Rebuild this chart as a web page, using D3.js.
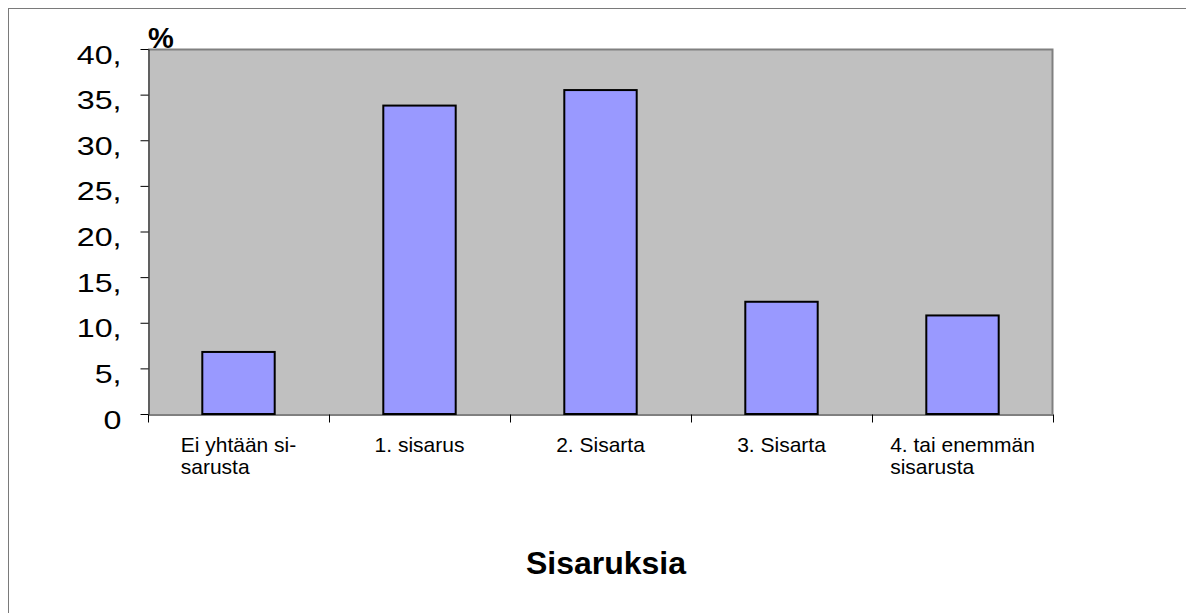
<!DOCTYPE html>
<html>
<head>
<meta charset="utf-8">
<script src="https://d3js.org/d3.v7.min.js"></script>
<style>
  body { margin: 0; background: #fff; }
  text { font-family: "Liberation Sans", Arial, sans-serif; fill: #000; }
</style>
</head>
<body>
<div class="chart"></div>
<script>
var categories = ["Ei yhtään si-|sarusta", "1. sisarus", "2. Sisarta", "3. Sisarta", "4. tai enemmän|sisarusta"],
    values = [6.8, 33.8, 35.5, 12.3, 10.8],
    yTicks = [0, 5, 10, 15, 20, 25, 30, 35, 40],
    yTickLabels = ["0", "5,", "10,", "15,", "20,", "25,", "30,", "35,", "40,"],
    xTitle = "Sisaruksia",
    yUnit = "%";

var outerWidth = 1186,
    outerHeight = 613,
    plot = {left: 148, top: 49, right: 1053, bottom: 414};

var svg = d3.select(".chart").append("svg")
    .attr("width", outerWidth)
    .attr("height", outerHeight);

// outer frame (runs off the right / bottom edge like the original)
svg.append("rect")
    .attr("x", 8.5).attr("y", 8.5)
    .attr("width", outerWidth + 20).attr("height", outerHeight + 20)
    .style("fill", "none")
    .style("stroke", "#7a7a7a")
    .style("stroke-width", 1);

var xScale = d3.scaleBand()
    .domain(categories)
    .range([plot.left, plot.right])
    .paddingInner(0.6)
    .paddingOuter(0.3);

var xBound = d3.scaleLinear().domain([0, categories.length]).range([plot.left, plot.right]);

var yScale = d3.scaleLinear().domain([0, 40]).range([plot.bottom, plot.top]);

// plot area
svg.append("rect")
    .attr("x", plot.left).attr("y", plot.top)
    .attr("width", plot.right - plot.left)
    .attr("height", plot.bottom - plot.top)
    .style("fill", "#c0c0c0");

svg.append("path")
    .attr("d", "M" + plot.left + "," + (plot.top + 0.5) + "H" + (plot.right - 0.5) + "V" + plot.bottom)
    .style("fill", "none")
    .style("stroke", "#808080")
    .style("stroke-width", 2);

// bars
svg.selectAll(".bar")
    .data(values)
    .enter().append("rect")
    .attr("class", "bar")
    .attr("x", function(d, i) { return xScale(categories[i]); })
    .attr("y", function(d) { return yScale(d); })
    .attr("width", xScale.bandwidth())
    .attr("height", function(d) { return yScale(0) - yScale(d); })
    .style("fill", "#9999ff")
    .style("stroke", "#000")
    .style("stroke-width", 2);

// y axis
var yAxis = d3.axisLeft(yScale)
    .tickValues(yTicks)
    .tickFormat(function(d, i) { return yTickLabels[i]; })
    .tickSize(8)
    .tickSizeOuter(0);

var yG = svg.append("g")
    .attr("transform", "translate(" + (plot.left + 0.5) + ",0)")
    .call(yAxis);

yG.select(".domain").style("stroke", "#000");
yG.selectAll(".tick line").style("stroke", "#000");
yG.selectAll(".tick text")
    .attr("x", -27 / 1.24)
    .attr("dy", 14)
    .attr("transform", "scale(1.24,1)")
    .style("font-family", "'Liberation Sans', Arial, sans-serif")
    .style("font-size", "26px")
    .style("fill", "#000");

// x axis: ticks on the category boundaries
var xAxis = d3.axisBottom(xBound)
    .tickValues(d3.range(categories.length + 1))
    .tickFormat("")
    .tickSize(8)
    .tickSizeOuter(0);

var xG = svg.append("g")
    .attr("transform", "translate(0," + (plot.bottom + 0.5) + ")")
    .call(xAxis);

xG.select(".domain").style("stroke", "#000");
xG.selectAll(".tick line").style("stroke", "#000");

// category labels: block centred in band, lines left aligned
var labels = svg.selectAll(".xlabel")
    .data(categories)
    .enter().append("text")
    .attr("class", "xlabel")
    .style("font-size", "21px");

labels.each(function(d) {
    var t = d3.select(this),
        lines = d.split("|");
    lines.forEach(function(line, j) {
        t.append("tspan").attr("y", 452 + j * 22).text(line);
    });
    var w = 0;
    t.selectAll("tspan").each(function() { w = Math.max(w, this.getComputedTextLength()); });
    var cx = xScale(d) + xScale.bandwidth() / 2;
    t.selectAll("tspan").attr("x", cx - w / 2);
});

// unit label
svg.append("text")
    .attr("x", plot.left)
    .attr("y", plot.top - 1)
    .style("font-size", "29px")
    .style("font-weight", "bold")
    .text(yUnit);

// axis title
svg.append("text")
    .attr("x", 606)
    .attr("y", 574)
    .attr("text-anchor", "middle")
    .style("font-size", "32px")
    .style("font-weight", "bold")
    .text(xTitle);
</script>
</body>
</html>
